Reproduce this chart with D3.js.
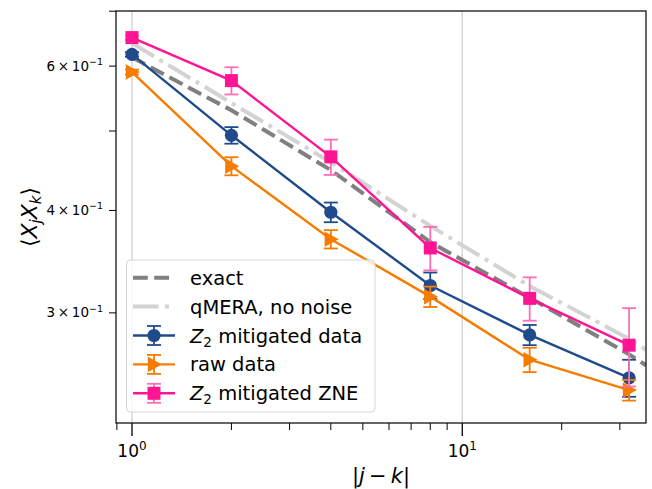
<!DOCTYPE html>
<html>
<head>
<meta charset="utf-8">
<script src="https://cdn.jsdelivr.net/npm/d3@7"></script>
<style>
  body { margin: 0; background: #fff; }
  svg { display: block; font-family: "DejaVu Sans", sans-serif; }
</style>
</head>
<body>
<svg id="canvas" width="652" height="489"></svg>
<script>
// distances |j-k|
const dist = [1, 2, 4, 8, 16, 32];

// theory curves run on to the right edge of the axes
const curveDist = [1, 2, 4, 8, 16, 32, 36];
const exact = [0.615, 0.530, 0.448, 0.366, 0.313, 0.267, 0.259];
const qmera = [0.640, 0.541, 0.458, 0.383, 0.3235, 0.279, 0.2704];

const z2Data = [0.620, 0.494, 0.398, 0.324, 0.282, 0.250];
const z2DataErr = [0.004, 0.0115, 0.011, 0.012, 0.008, 0.013];

const rawData = [0.590, 0.453, 0.369, 0.314, 0.263, 0.2415];
const rawDataErr = [0.004, 0.0115, 0.0095, 0.009, 0.009, 0.007];

const z2Zne = [0.650, 0.576, 0.465, 0.360, 0.3125, 0.274];
const z2ZneErr = [0.004, 0.022, 0.023, 0.022, 0.019, 0.03];

const xMajor = [1, 10];
const xMinor = [0.9, 2, 3, 4, 5, 6, 7, 8, 9, 20, 30];
const yTicks = [0.3, 0.4, 0.5, 0.6, 0.7];
const yLabels = { 0.3: "3", 0.4: "4", 0.6: "6" };

const settings = {
  left: 116, right: 646, top: 11, bottom: 423,
  xDomain: [0.8945, 36.0],
  yDomain: [0.2202, 0.7004],
};

const svg = d3.select("#canvas");

const x = d3.scaleLog().domain(settings.xDomain).range([settings.left, settings.right]);
const y = d3.scaleLog().domain(settings.yDomain).range([settings.bottom, settings.top]);

svg.append("clipPath").attr("id", "plot-clip")
  .append("rect")
  .attr("x", settings.left).attr("y", settings.top)
  .attr("width", settings.right - settings.left)
  .attr("height", settings.bottom - settings.top);

// grid at the major x ticks
svg.append("g")
  .selectAll("line")
  .data(xMajor)
  .join("line")
  .attr("x1", d => x(d)).attr("x2", d => x(d))
  .attr("y1", settings.top).attr("y2", settings.bottom)
  .attr("stroke", "#d3d3d3")
  .attr("stroke-width", 1.4);

const line = d3.line().x(d => x(d[0])).y(d => y(d[1]));
const plot = svg.append("g").attr("clip-path", "url(#plot-clip)");

// exact + qMERA curves
plot.append("path")
  .attr("d", line(curveDist.map((d, i) => [d, exact[i]])))
  .attr("fill", "none")
  .attr("stroke", "#808080")
  .attr("stroke-width", 4)
  .attr("stroke-dasharray", "14.8,6.4");

plot.append("path")
  .attr("d", line(curveDist.map((d, i) => [d, qmera[i]])))
  .attr("fill", "none")
  .attr("stroke", "#d3d3d3")
  .attr("stroke-width", 4)
  .attr("stroke-dasharray", "25.6,6.4,4,6.4");

const series = [
  { name: "z2", vals: z2Data, err: z2DataErr, color: "#1f4b8b", ecolor: "#1f4b8b", marker: "circle" },
  { name: "raw", vals: rawData, err: rawDataErr, color: "#f57c00", ecolor: "#f57c00", marker: "tri" },
  { name: "zne", vals: z2Zne, err: z2ZneErr, color: "#ff1493", ecolor: "#ff6eb4", marker: "square" },
];

function drawMarker(g, type, cx, cy, color) {
  if (type === "circle") {
    g.append("circle").attr("cx", cx).attr("cy", cy).attr("r", 6.6).attr("fill", color);
  } else if (type === "square") {
    g.append("rect").attr("x", cx - 6.5).attr("y", cy - 6.5)
      .attr("width", 13).attr("height", 13).attr("fill", color);
  } else {
    g.append("path")
      .attr("d", `M${cx + 7.8},${cy} L${cx - 6.2},${cy - 7.8} L${cx - 6.2},${cy + 7.8} Z`)
      .attr("fill", color);
  }
}

function errBar(g, cx, y0, y1, color) {
  g.append("line").attr("x1", cx).attr("x2", cx).attr("y1", y0).attr("y2", y1)
    .attr("stroke", color).attr("stroke-width", 1.8);
  [y0, y1].forEach(yy => {
    g.append("line").attr("x1", cx - 7).attr("x2", cx + 7).attr("y1", yy).attr("y2", yy)
      .attr("stroke", color).attr("stroke-width", 1.8);
  });
}

series.forEach(s => {
  const g = svg.append("g").attr("class", s.name);
  const pts = dist.map((d, i) => [d, s.vals[i]]);
  pts.forEach((p, i) => errBar(g, x(p[0]), y(p[1] + s.err[i]), y(p[1] - s.err[i]), s.ecolor));
  g.append("path").attr("d", line(pts)).attr("fill", "none")
    .attr("stroke", s.color).attr("stroke-width", 2.4);
  pts.forEach(p => drawMarker(g, s.marker, x(p[0]), y(p[1]), s.color));
});

// spines
svg.append("rect")
  .attr("x", settings.left).attr("y", settings.top)
  .attr("width", settings.right - settings.left)
  .attr("height", settings.bottom - settings.top)
  .attr("fill", "none").attr("stroke", "#000").attr("stroke-width", 1.2);

// x ticks
const xt = svg.append("g");
xt.selectAll(".maj").data(xMajor).join("line")
  .attr("x1", d => x(d)).attr("x2", d => x(d))
  .attr("y1", settings.bottom).attr("y2", settings.bottom + 13)
  .attr("stroke", "#000").attr("stroke-width", 1.3);
xt.selectAll(".min").data(xMinor).join("line")
  .attr("x1", d => x(d)).attr("x2", d => x(d))
  .attr("y1", settings.bottom).attr("y2", settings.bottom + 7)
  .attr("stroke", "#000").attr("stroke-width", 1);
xMajor.forEach(d => {
  const t = xt.append("text").attr("x", x(d)).attr("y", 457)
    .attr("text-anchor", "middle").attr("font-size", 17);
  t.append("tspan").text("10");
  t.append("tspan").attr("dy", -7).attr("font-size", 12).text(Math.log10(d));
});

// y ticks (all minor on this log range)
const yt = svg.append("g");
yt.selectAll("line").data(yTicks).join("line")
  .attr("x1", settings.left - 7).attr("x2", settings.left)
  .attr("y1", d => y(d)).attr("y2", d => y(d))
  .attr("stroke", "#000").attr("stroke-width", 1);
yTicks.filter(d => yLabels[d]).forEach(d => {
  const t = yt.append("text").attr("x", 103).attr("y", y(d) + 4.5)
    .attr("text-anchor", "end").attr("font-size", 13.5);
  t.append("tspan").text(yLabels[d] + "\u2009\u00d7\u200910");
  t.append("tspan").attr("dy", -5.5).attr("font-size", 9.5).text("\u22121");
});

// axis labels
const xl = svg.append("text").attr("x", 381).attr("y", 483)
  .attr("text-anchor", "middle").attr("font-size", 21);
xl.append("tspan").text("|");
xl.append("tspan").attr("font-style", "italic").text("j");
xl.append("tspan").text("\u2009\u2212\u2009");
xl.append("tspan").attr("font-style", "italic").text("k");
xl.append("tspan").text("|");

const yl = svg.append("text")
  .attr("transform", "translate(37,217) rotate(-90)")
  .attr("text-anchor", "middle").attr("font-size", 22);
yl.append("tspan").text("\u27e8");
yl.append("tspan").attr("font-style", "italic").text("X");
yl.append("tspan").attr("font-style", "italic").attr("font-size", 15).attr("dy", 4).text("j");
yl.append("tspan").attr("font-style", "italic").attr("dy", -4).text("X");
yl.append("tspan").attr("font-style", "italic").attr("font-size", 15).attr("dy", 4).text("k");
yl.append("tspan").attr("dy", -4).text("\u27e9");

// legend
const lg = svg.append("g").attr("class", "legend");
lg.append("rect")
  .attr("x", 126.5).attr("y", 260).attr("width", 248.5).attr("height", 152)
  .attr("rx", 4)
  .attr("fill", "rgba(255,255,255,0.8)")
  .attr("stroke", "#d6d6d6").attr("stroke-width", 1);

const legendRows = [
  { label: "exact", kind: "exact" },
  { label: "qMERA, no noise", kind: "qmera" },
  { label: "mitigated data", z: true, s: series[0] },
  { label: "raw data", s: series[1] },
  { label: "mitigated ZNE", z: true, s: series[2] },
];
const hx0 = 133, hx1 = 175, tx = 190;
legendRows.forEach((r, i) => {
  const cy = 277.7 + i * 28.9;
  if (r.kind === "exact") {
    lg.append("line").attr("x1", hx0).attr("x2", hx1).attr("y1", cy).attr("y2", cy)
      .attr("stroke", "#808080").attr("stroke-width", 4).attr("stroke-dasharray", "14.8,6.4");
  } else if (r.kind === "qmera") {
    lg.append("line").attr("x1", hx0).attr("x2", hx1).attr("y1", cy).attr("y2", cy)
      .attr("stroke", "#d3d3d3").attr("stroke-width", 4).attr("stroke-dasharray", "25.6,6.4,4,6.4");
  } else {
    const mx = (hx0 + hx1) / 2;
    errBar(lg, mx, cy - 9.5, cy + 9.5, r.s.ecolor);
    lg.append("line").attr("x1", hx0).attr("x2", hx1).attr("y1", cy).attr("y2", cy)
      .attr("stroke", r.s.color).attr("stroke-width", 2.4);
    drawMarker(lg, r.s.marker, mx, cy, r.s.color);
  }
  const t = lg.append("text").attr("x", tx).attr("y", cy + 7).attr("font-size", 19.5);
  if (r.z) {
    t.append("tspan").attr("font-style", "italic").text("Z");
    t.append("tspan").attr("font-size", 13.5).attr("dy", 4).text("2");
    t.append("tspan").attr("dy", -4).text(" " + r.label);
  } else {
    t.text(r.label);
  }
});
</script>
</body>
</html>
